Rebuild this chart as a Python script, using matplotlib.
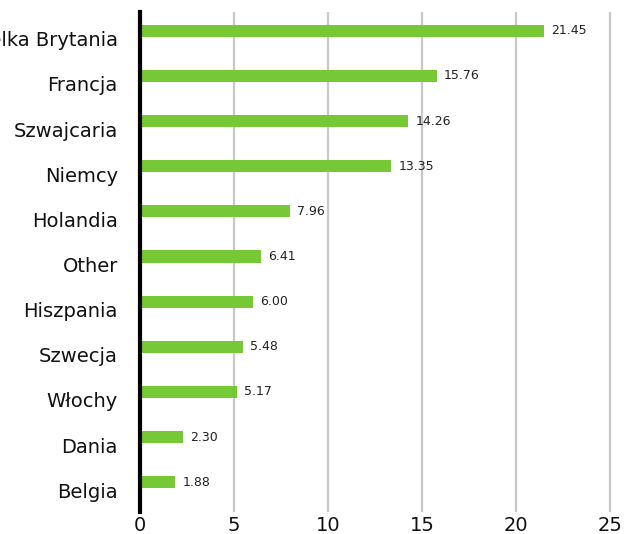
import matplotlib
matplotlib.use("Agg")
import matplotlib.pyplot as plt
from matplotlib.transforms import ScaledTranslation

countries = ["Wielka Brytania", "Francja", "Szwajcaria", "Niemcy", "Holandia",
             "Other", "Hiszpania", "Szwecja", "Włochy", "Dania", "Belgia"]
values = [21.45, 15.76, 14.26, 13.35, 7.96, 6.41, 6.00, 5.48, 5.17, 2.30, 1.88]
xticks = [0, 5, 10, 15, 20, 25]

GREEN = "#76c935"
GRID = "#c8c8c8"

plt.rcParams["font.family"] = ["DejaVu Sans"]

fig = plt.figure(figsize=(6.28, 5.34), dpi=100)
ax = fig.add_axes([0.223, 0.041, 0.752, 0.937])

y = list(range(len(countries)))
ax.barh(y, values, height=0.27, color=GREEN, zorder=3)
for yi, v in zip(y, values):
    ax.text(v + 0.38, yi, f"{v:.2f}", va="center", ha="left",
            fontsize=9, color="#222222", zorder=4)

ax.set_ylim(10.66, -0.42)
ax.set_xlim(0, 25.1)
ax.set_yticks(y)
ax.set_yticklabels(countries, fontsize=14, color="#111111")
ax.set_xticks(xticks)
ax.set_xticklabels([str(t) for t in xticks], fontsize=14, color="#111111")
ax.tick_params(axis="y", length=0, pad=16)
ax.tick_params(axis="x", length=0, pad=2.5)

# labels in the reference sit a little below the bars
shift = ScaledTranslation(0, -0.08, fig.dpi_scale_trans)
for lab in ax.get_yticklabels():
    lab.set_transform(lab.get_transform() + shift)

for sp in ["top", "right", "bottom"]:
    ax.spines[sp].set_visible(False)
ax.spines["left"].set_linewidth(3)
ax.spines["left"].set_color("black")
ax.spines["left"].set_zorder(5)

ax.grid(axis="x", color=GRID, linewidth=1.6, zorder=0)
ax.grid(axis="y", visible=False)

fig.savefig("out.png", dpi=100)
